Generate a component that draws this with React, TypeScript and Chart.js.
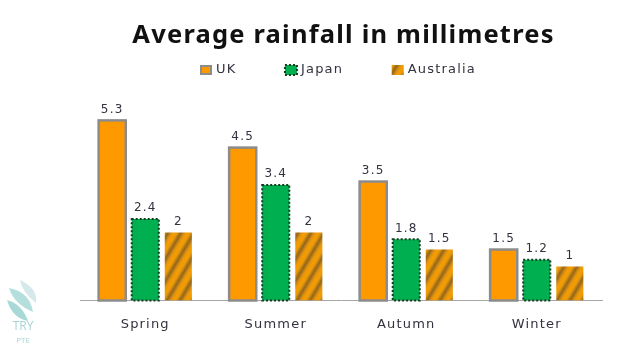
import React, { useEffect, useRef } from "react";
import { Chart, registerables } from "chart.js";

Chart.register(...registerables);

const categories = ["Spring", "Summer", "Autumn", "Winter"];
const ukValues = [5.3, 4.5, 3.5, 1.5];
const japanValues = [2.4, 3.4, 1.8, 1.2];
const australiaValues = [2, 2, 1.5, 1];
const titleText = "Average rainfall in millimetres";

const ORANGE = "#ff9900";
const GREEN = "#00b050";
const GREY = "#8c8c8c";
const DOT = "#123d20";
const TEXT = "#333340";

function makeStripes(ctx: CanvasRenderingContext2D) {
  const w = 13;
  const h = 22;
  const tile = document.createElement("canvas");
  tile.width = w;
  tile.height = h;
  const t = tile.getContext("2d")!;
  const nx = 1 / w;
  const ny = 1 / h;
  const n2 = nx * nx + ny * ny;
  // value x/w + y/h runs over 0..2 inside the tile: two cycles make it seamless
  const grad = t.createLinearGradient(0, 0, (2 * nx) / n2, (2 * ny) / n2);
  [0, 0.5].forEach((o) => {
    grad.addColorStop(o, "#f59c00");
    grad.addColorStop(o + 0.1, "#eb9a0a");
    grad.addColorStop(o + 0.25, "#94661a");
    grad.addColorStop(o + 0.4, "#e09412");
    grad.addColorStop(o + 0.49, "#f59c00");
  });
  t.fillStyle = grad;
  t.fillRect(0, 0, w, h);
  return ctx.createPattern(tile, "repeat")!;
}

const spacingPlugin = {
  id: "spacing",
  afterLayout(chart: any) {
    chart.titleBlock.left += 2.5;
    chart.titleBlock.right += 2.5;
  },
  beforeDraw(chart: any) {
    chart.ctx.letterSpacing = "1.2px";
  },
};

const barLabelsPlugin = {
  id: "barLabels",
  afterDatasetsDraw(chart: any) {
    const { ctx } = chart;
    ctx.save();
    chart.getDatasetMeta(0).data.forEach((bar: any) => {
      ctx.strokeStyle = GREY;
      ctx.lineWidth = 2.5;
      const w = bar.width;
      ctx.strokeRect(bar.x - w / 2, bar.y, w, bar.base - bar.y);
    });
    chart.getDatasetMeta(1).data.forEach((bar: any) => {
      ctx.strokeStyle = DOT;
      ctx.lineWidth = 2;
      ctx.setLineDash([2, 2]);
      const w = bar.width;
      ctx.strokeRect(bar.x - w / 2, bar.y, w, bar.base - bar.y);
      ctx.setLineDash([]);
    });
    ctx.fillStyle = TEXT;
    ctx.font = "12px 'DejaVu Sans'";
    ctx.textAlign = "center";
    ctx.textBaseline = "alphabetic";
    chart.data.datasets.forEach((ds: any, i: number) => {
      chart.getDatasetMeta(i).data.forEach((bar: any, j: number) => {
        ctx.fillText(String(ds.data[j]), bar.x, bar.y - 7.5);
      });
    });
    ctx.restore();
  },
};

const legendPlugin = {
  id: "customLegend",
  afterDraw(chart: any) {
    const { ctx } = chart;
    ctx.save();
    ctx.font = "13px 'DejaVu Sans'";
    ctx.textBaseline = "middle";
    ctx.textAlign = "left";
    let x = 200;
    const cy = 70;
    chart.data.datasets.forEach((ds: any, i: number) => {
      ctx.fillStyle = ds.backgroundColor;
      ctx.fillRect(x, cy - 5, 12, 10);
      if (i === 0) {
        ctx.strokeStyle = GREY;
        ctx.lineWidth = 2;
        ctx.strokeRect(x + 1, cy - 4, 10, 8);
      } else if (i === 1) {
        ctx.strokeStyle = DOT;
        ctx.lineWidth = 2;
        ctx.setLineDash([2, 2]);
        ctx.strokeRect(x, cy - 5, 12, 10);
        ctx.setLineDash([]);
      }
      ctx.fillStyle = TEXT;
      ctx.fillText(ds.label, x + 16, cy);
      x += 16 + ctx.measureText(ds.label).width + 48.5;
    });
    ctx.restore();
  },
};

const watermarkPlugin = {
  id: "watermark",
  afterDraw(chart: any) {
    const { ctx } = chart;
    ctx.save();
    const leaf = (pts: number[], color: string) => {
      ctx.fillStyle = color;
      ctx.beginPath();
      ctx.moveTo(pts[0], pts[1]);
      ctx.quadraticCurveTo(pts[2], pts[3], pts[4], pts[5]);
      ctx.quadraticCurveTo(pts[6], pts[7], pts[0], pts[1]);
      ctx.closePath();
      ctx.fill();
    };
    leaf([20, 280, 38, 288, 36, 303, 22, 292], "#d6e9ea");
    leaf([9, 288, 30, 292, 33, 312, 14, 304], "#b5dfdd");
    leaf([7, 300, 22, 304, 28, 321, 12, 318], "#a8d9d6");
    ctx.letterSpacing = "0px";
    ctx.textAlign = "center";
    ctx.textBaseline = "middle";
    ctx.fillStyle = "#a9d3d3";
    ctx.font = "12px 'Open Sans'";
    ctx.fillText("TRY", 23, 327);
    ctx.font = "8px 'Open Sans'";
    ctx.fillText("PTE", 23, 341);
    ctx.restore();
  },
};

export default function App() {
  const ref = useRef<HTMLCanvasElement>(null);
  useEffect(() => {
    const canvas = ref.current!;
    const ctx = canvas.getContext("2d")!;
    const stripes = makeStripes(ctx);
    const chart = new Chart(canvas, {
      type: "bar",
      data: {
        labels: categories,
        datasets: [
          { label: "UK", data: ukValues, backgroundColor: ORANGE, borderWidth: 0 },
          { label: "Japan", data: japanValues, backgroundColor: GREEN, borderWidth: 0 },
          { label: "Australia", data: australiaValues, backgroundColor: stripes, borderWidth: 0 },
        ],
      },
      options: {
        responsive: false,
        animation: false,
        devicePixelRatio: 1,
        layout: { padding: { left: 80, right: 35, top: 0, bottom: 0 } },
        datasets: { bar: { categoryPercentage: 0.76, barPercentage: 0.82 } },
        scales: {
          x: {
            grid: { display: false },
            border: { color: "#a6a6a6", width: 1 },
            ticks: { color: TEXT, font: { family: "'DejaVu Sans'", size: 13 }, padding: 8, maxRotation: 0 },
            afterFit: (scale: any) => {
              scale.height = 51.5;
            },
          },
          y: { display: false, min: 0, max: 6 },
        },
        plugins: {
          tooltip: { enabled: false },
          title: {
            display: true,
            text: titleText,
            color: "#111111",
            font: { family: "'Noto Sans'", size: 25.5, weight: "bold" },
            padding: { top: 20, bottom: 46 },
          },
          legend: { display: false },
        },
      },
      plugins: [spacingPlugin, barLabelsPlugin, legendPlugin, watermarkPlugin],
    } as any);
    return () => chart.destroy();
  }, []);
  return (
    <canvas
      ref={ref}
      width={637}
      height={352}
      style={{ position: "fixed", left: 0, top: 0, display: "block", background: "#fff" }}
    />
  );
}
